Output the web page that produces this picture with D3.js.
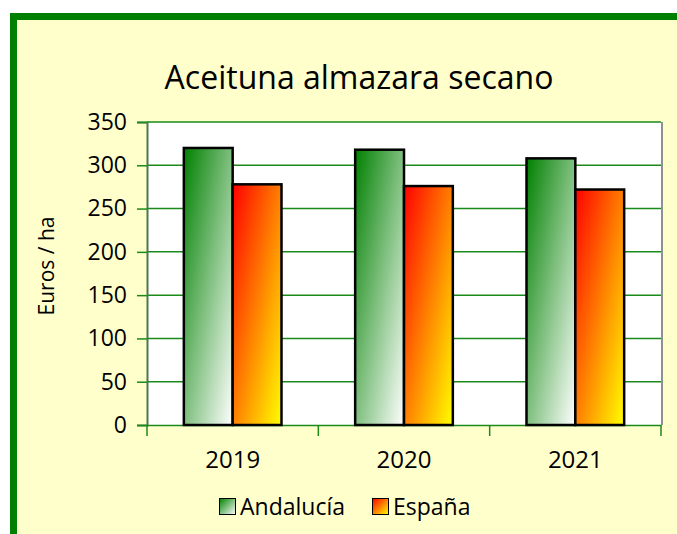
<!DOCTYPE html>
<meta charset="utf-8">
<head>
    <title>Aceituna almazara secano</title>
    <script src="https://d3js.org/d3.v7.min.js"></script>
    <style>
        body { margin: 0; background: #fff; }
        svg text { font-family: "Open Sans", sans-serif; fill: #000; }
    </style>
</head>
<body>
<div id="chart"></div>
<script>
    // data
    var years = ["2019", "2020", "2021"];
    var series = ["Andalucía", "España"];
    var andalucia = [320, 318, 308];
    var espana = [278, 276, 272];
    var yTicks = [0, 50, 100, 150, 200, 250, 300, 350];

    var width = 677, height = 534;
    var plot = {left: 147, right: 661, top: 122, bottom: 425};

    var svg = d3.select("#chart").append("svg")
        .attr("width", width)
        .attr("height", height);

    // gradients
    var defs = svg.append("defs");
    function grad(id, c1, c2) {
        var g = defs.append("linearGradient").attr("id", id)
            .attr("x1", 0).attr("y1", 0).attr("x2", 1).attr("y2", 1);
        g.append("stop").attr("offset", "0%").attr("stop-color", c1);
        g.append("stop").attr("offset", "100%").attr("stop-color", c2);
    }
    grad("gAnd", "#008000", "#ffffff");
    grad("gEsp", "#ff0000", "#ffff00");
    var fills = ["url(#gAnd)", "url(#gEsp)"];

    // outer frame
    svg.append("rect")
        .attr("x", 13.5).attr("y", 16.5)
        .attr("width", 720).attr("height", 600)
        .attr("fill", "#ffffcc")
        .attr("stroke", "#008000")
        .attr("stroke-width", 7);

    // title
    svg.append("text")
        .attr("x", 359).attr("y", 89)
        .attr("text-anchor", "middle")
        .style("font-size", "32px")
        .text("Aceituna almazara secano");

    var y = d3.scaleLinear().domain([0, 350]).range([plot.bottom, plot.top]);
    var x0 = d3.scaleBand().domain(years).range([plot.left, plot.right]).paddingInner(0.43).paddingOuter(0.215);
    var x1 = d3.scaleBand().domain(series).range([0, x0.bandwidth()]);
    var xCat = d3.scaleBand().domain(years).range([plot.left, plot.right]);

    // plot area
    svg.append("rect")
        .attr("x", plot.left).attr("y", plot.top)
        .attr("width", plot.right - plot.left).attr("height", plot.bottom - plot.top)
        .attr("fill", "#fff");

    // grid
    svg.append("g").selectAll("line")
        .data(yTicks.filter(function (d) { return d > 0; }))
        .enter().append("line")
        .attr("x1", plot.left).attr("x2", plot.right)
        .attr("y1", function (d) { return y(d); })
        .attr("y2", function (d) { return y(d); })
        .attr("stroke", "#1a8a1a")
        .attr("stroke-width", 1.5);

    // right shadow
    svg.append("line")
        .attr("x1", plot.right + 1).attr("x2", plot.right + 1)
        .attr("y1", plot.top).attr("y2", plot.bottom)
        .attr("stroke", "#909090").attr("stroke-width", 2);

    // y axis
    var yAxis = svg.append("g")
        .attr("transform", "translate(" + plot.left + ",0)")
        .call(d3.axisLeft(y).tickValues(yTicks).tickSize(10).tickPadding(10));
    yAxis.select(".domain").attr("stroke", "#4a7a4a").attr("stroke-width", 2);
    yAxis.selectAll(".tick line").attr("stroke", "#1a8a1a").attr("stroke-width", 1.5);
    yAxis.selectAll("text").style("font-size", "23px").attr("fill", "#000");

    // x axis
    var xAxis = svg.append("g")
        .attr("transform", "translate(0," + plot.bottom + ")")
        .call(d3.axisBottom(xCat).tickSize(0).tickPadding(26));
    xAxis.select(".domain").attr("stroke", "#1a8a1a").attr("stroke-width", 1.5);
    xAxis.selectAll("text").style("font-size", "24px").attr("fill", "#000");
    svg.append("g").selectAll("line")
        .data([plot.left].concat(years.map(function (d) { return xCat(d) + xCat.bandwidth(); })))
        .enter().append("line")
        .attr("x1", function (d) { return d; }).attr("x2", function (d) { return d; })
        .attr("y1", plot.bottom).attr("y2", plot.bottom + 11)
        .attr("stroke", "#1a8a1a").attr("stroke-width", 1.5);

    // bars
    var values = [andalucia, espana];
    series.forEach(function (s, si) {
        svg.append("g").selectAll("rect")
            .data(years)
            .enter().append("rect")
            .attr("x", function (d) { return x0(d) + x1(s); })
            .attr("y", function (d, i) { return y(values[si][i]); })
            .attr("width", x1.bandwidth())
            .attr("height", function (d, i) { return y(0) - y(values[si][i]); })
            .attr("fill", fills[si])
            .attr("stroke", "#000")
            .attr("stroke-width", 2.5);
    });

    // y axis title
    svg.append("text")
        .attr("transform", "translate(54,266) rotate(-90)")
        .attr("text-anchor", "middle")
        .style("font-size", "21px")
        .text("Euros / ha");

    // legend
    var legendX = [219, 372];
    series.forEach(function (s, i) {
        svg.append("rect")
            .attr("x", legendX[i] + 0.5).attr("y", 498.5)
            .attr("width", 16).attr("height", 16)
            .attr("fill", fills[i])
            .attr("stroke", "#000").attr("stroke-width", 1);
        svg.append("text")
            .attr("x", legendX[i] + 21).attr("y", 515)
            .style("font-size", "23px")
            .text(s);
    });
</script>
</body>
